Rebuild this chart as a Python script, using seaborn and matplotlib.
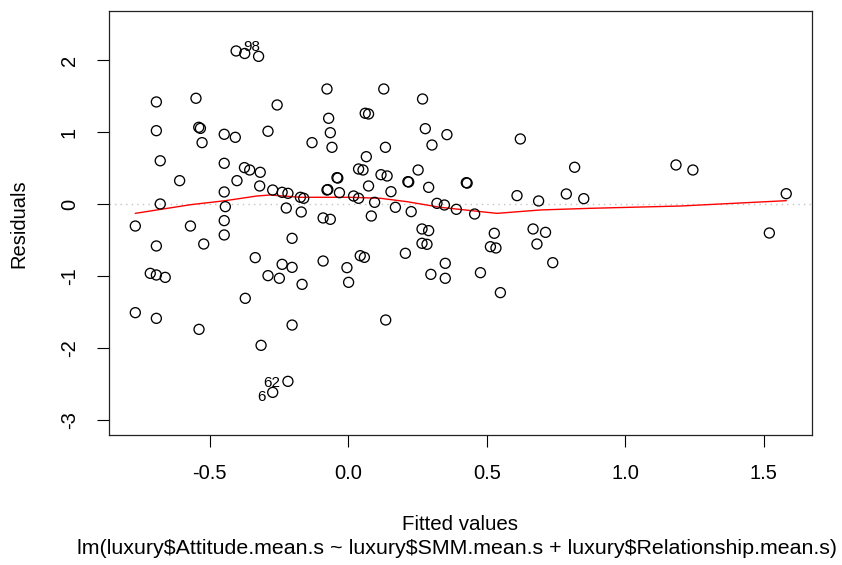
import numpy as np
import pandas as pd
import matplotlib
matplotlib.use("Agg")
import matplotlib.pyplot as plt
import seaborn as sns

# fitted values and residuals
fitted = [
    -0.405, -0.374, -0.324, -0.693, -0.550, -0.077, -0.257, -0.693, -0.540, -0.534,
    -0.528, -0.448, -0.408, -0.290, -0.071, -0.065, -0.059, -0.131, -0.679, -0.609,
    -0.448, -0.402, -0.375, -0.356, -0.318, -0.320, -0.273, -0.239, -0.218, -0.173,
    -0.161, -0.077, -0.074, -0.041, -0.038, -0.032, -0.448, -0.679, -0.444, -0.448,
    -0.224, -0.170, -0.091, -0.065, -0.769, -0.570, -0.448, -0.693, -0.522, -0.203,
    -0.336, -0.239, -0.203, -0.091, -0.005, 0.001, -0.715, -0.693, -0.661, -0.290,
    -0.249, -0.167, -0.372, -0.769, -0.693, -0.539, -0.203, -0.315, -0.218, -0.273,
    0.128, 0.268, 0.061, 0.073, 0.278, 0.356, 0.621, 0.302, 0.134, 0.065,
    0.037, 0.053, 0.118, 0.140, 0.252, 0.817, 0.215, 0.218, 0.426, 0.429,
    0.073, 0.290, 0.019, 0.037, 0.154, 0.095, 0.170, 0.227, 0.320, 0.347,
    0.390, 0.456, 0.609, 0.687, 0.787, 0.850, 0.083, 0.043, 0.058, 0.206,
    0.266, 0.290, 0.266, 0.284, 0.298, 0.350, 0.350, 0.477, 0.527, 0.513,
    0.533, 0.549, 0.667, 0.681, 0.712, 0.738, 0.135, 1.183, 1.244, 1.581,
    1.520,
]
residuals = [
    2.125, 2.090, 2.050, 1.417, 1.468, 1.597, 1.375, 1.018, 1.065, 1.050,
    0.852, 0.968, 0.926, 1.010, 1.190, 0.990, 0.787, 0.852, 0.600, 0.324,
    0.565, 0.324, 0.505, 0.472, 0.440, 0.250, 0.194, 0.162, 0.148, 0.093,
    0.079, 0.194, 0.200, 0.366, 0.360, 0.157, 0.167, 0.000, -0.037, -0.231,
    -0.056, -0.111, -0.194, -0.213, -0.306, -0.306, -0.430, -0.583, -0.556, -0.477,
    -0.745, -0.838, -0.880, -0.792, -0.884, -1.088, -0.963, -0.986, -1.019, -0.995,
    -1.032, -1.116, -1.310, -1.509, -1.588, -1.741, -1.681, -1.963, -2.463, -2.616,
    1.597, 1.458, 1.260, 1.250, 1.046, 0.963, 0.903, 0.819, 0.787, 0.657,
    0.486, 0.472, 0.407, 0.389, 0.472, 0.510, 0.310, 0.305, 0.296, 0.290,
    0.250, 0.231, 0.111, 0.079, 0.171, 0.023, -0.046, -0.106, 0.009, -0.014,
    -0.074, -0.139, 0.116, 0.042, 0.139, 0.074, -0.167, -0.718, -0.741, -0.685,
    -0.347, -0.370, -0.546, -0.560, -0.977, -0.824, -1.032, -0.954, -0.407, -0.593,
    -0.611, -1.231, -0.347, -0.556, -0.394, -0.815, -1.611, 0.542, 0.472, 0.143,
    -0.403,
]

# smoother (red line)
smooth_x = [-0.769, -0.570, -0.444, -0.330, -0.282, -0.173, 0.007, 0.116, 0.212,
            0.332, 0.477, 0.537, 0.693, 0.874, 1.199, 1.581]
smooth_y = [-0.130, -0.010, 0.046, 0.111, 0.125, 0.093, 0.093, 0.079, 0.032,
            -0.046, -0.106, -0.130, -0.083, -0.060, -0.028, 0.046]

# labelled observations
label_text = ["98", "62", "6"]
label_x = [-0.348, -0.275, -0.314]
label_y = [2.18, -2.49, -2.676]

x_ticks = [-0.5, 0.0, 0.5, 1.0, 1.5]
y_ticks = [-3, -2, -1, 0, 1, 2]

df = pd.DataFrame({"fitted": fitted, "resid": residuals})
smooth = pd.DataFrame({"x": smooth_x, "y": smooth_y})

sns.set_style("white")
plt.rcParams["font.family"] = ["Liberation Sans", "DejaVu Sans"]
plt.rcParams["text.color"] = "black"
plt.rcParams["xtick.color"] = "black"
plt.rcParams["ytick.color"] = "black"

fig = plt.figure(figsize=(8.42, 5.65), dpi=100)
ax = fig.add_axes([109 / 842, 1 - 435 / 565, (812 - 109) / 842, (435 - 11) / 565])

ax.axhline(0, color="#c4c4c4", linestyle=(0, (1, 3)), linewidth=1.0, zorder=1)
sns.scatterplot(data=df, x="fitted", y="resid", ax=ax, s=52, marker="o",
                facecolors="none", edgecolor="black", linewidth=0.95, zorder=3)
sns.lineplot(data=smooth, x="x", y="y", ax=ax, color="red", linewidth=1.0,
             sort=False, estimator=None, zorder=2)

for t, lx, ly in zip(label_text, label_x, label_y):
    ax.text(lx, ly, t, fontsize=11, ha="center", va="center", color="black", zorder=4)

ax.set_xlim(-0.864, 1.674)
ax.set_ylim(-3.208, 2.68)
ax.set_xticks(x_ticks)
ax.set_xticklabels(["-0.5", "0.0", "0.5", "1.0", "1.5"], fontsize=14.5)
ax.set_yticks(y_ticks)
ax.set_yticklabels([str(v) for v in y_ticks], fontsize=14.5, rotation=90, va="center")
ax.tick_params(axis="both", direction="out", length=8.6, width=0.8, color="black",
               labelcolor="black", bottom=True, left=True, pad=12)
ax.tick_params(axis="y", pad=13)
for sp in ax.spines.values():
    sp.set_color("#222222")
    sp.set_linewidth(0.9)
ax.set_xlabel("")
ax.set_ylabel("")

fig.text(19 / 842, 1 - 224 / 565, "Residuals", rotation=90, fontsize=14.5,
         ha="center", va="center", color="black")
fig.text(460 / 842, 1 - 525 / 565, "Fitted values", fontsize=14.8,
         ha="center", va="center", color="black")
fig.text(457 / 842, 1 - 549 / 565,
         "lm(luxury$Attitude.mean.s ~ luxury$SMM.mean.s + luxury$Relationship.mean.s)",
         fontsize=15.4, ha="center", va="center", color="black")

fig.savefig("out.png", dpi=100)
